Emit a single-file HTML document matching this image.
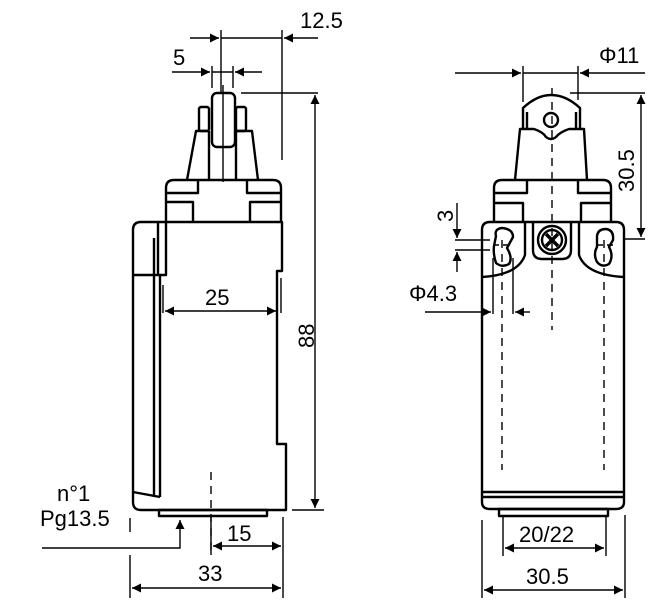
<!DOCTYPE html>
<html><head><meta charset="utf-8"><style>
html,body{margin:0;padding:0;background:#fff}
svg{display:block}
text{font-family:"Liberation Sans",sans-serif;font-size:22px;fill:#000}
</style></head><body>
<svg width="661" height="606" viewBox="0 0 661 606" xmlns="http://www.w3.org/2000/svg">
<defs>
<marker id="a" viewBox="0 0 10 10" refX="10" refY="5" markerWidth="16" markerHeight="9" markerUnits="userSpaceOnUse" orient="auto-start-reverse"><path d="M0,0 L10,5 L0,10 z" fill="#000"/></marker>
</defs>
<g fill="none" stroke="#000" stroke-width="2.4" stroke-linejoin="round">
<rect x="212" y="93" width="23" height="54" rx="5"/>
<rect x="199" y="107" width="10" height="24" rx="2"/>
<rect x="236" y="107" width="10" height="24" rx="2"/>
<path d="M187,180 L196,131 L209,131 M236,131 L252,131 L258,180"/>
<path d="M209,131 V180 M236,131 V180"/>
<path d="M166,222 V188 Q166,180 174,180 H273 Q281,180 281,188 V222"/>
<path d="M166,193 H198 V180 M166,202 H193 V222 M281,193 H247 V180 M281,202 H250 V222"/>
<path d="M133,230 Q133,222 141,222 H282 V271 H277 V444 H286 V510 H141 Q133,510 133,502 Z"/>
<path d="M133,275 H166 V222 M158,222 V275"/>
<path d="M154,238 V497 M160,275 V497 M133,492 L160,497"/>
<rect x="159" y="510" width="108" height="6"/>
</g>
<g fill="none" stroke="#000" stroke-width="1.4">
<path d="M223,85 V182"/>
<path d="M211,472 V550" stroke-dasharray="8,6"/>
<path d="M221,30 V92 M282,30 V160"/>
<path d="M190,38 H219" marker-end="url(#a)"/>
<path d="M318,38 H284" marker-end="url(#a)"/>
<path d="M221,38 H282"/>
<path d="M212,66 V88 M233,66 V88"/>
<path d="M172,72 H210" marker-end="url(#a)"/>
<path d="M262,72 H235" marker-end="url(#a)"/>
<path d="M212,72 H233"/>
<path d="M241,93 H318 M292,510 H324"/>
<path d="M315,95 V508" marker-start="url(#a)" marker-end="url(#a)"/>
<path d="M163,285 V313 M281,278 V313"/>
<path d="M165,311 H276" marker-start="url(#a)" marker-end="url(#a)"/>
<path d="M211,517 V555 M283,517 V598 M130,555 V598 M130,518 V532"/>
<path d="M213,546 H281" marker-start="url(#a)" marker-end="url(#a)"/>
<path d="M132,588 H281" marker-start="url(#a)" marker-end="url(#a)"/>
<path d="M42,548 H180 V520" marker-end="url(#a)"/>
</g>
<text x="300" y="28">12.5</text>
<text x="173" y="65">5</text>
<text x="205" y="305">25</text>
<text x="227" y="541">15</text>
<text x="198" y="581">33</text>
<text x="57" y="501">n°1</text>
<text x="40" y="526">Pg13.5</text>
<text transform="translate(314,348) rotate(-90)">88</text>

<g fill="none" stroke="#000" stroke-width="2.4" stroke-linejoin="round">
<path d="M523,128 V108 Q537,95 551,95 Q566,95 580,108 V128"/>
<path d="M527,112 V128 M576,112 V128"/>
<circle cx="551" cy="120" r="7"/>
<path d="M515,180 L520,129 H534 Q543,132 546,137 Q551,141 556,137 Q560,132 569,129 H584 L587,180"/>
<path d="M494,222 V188 Q494,180 502,180 H603 Q611,180 611,188 V222"/>
<path d="M494,193 H527 V180 M494,203 H523 V222 M611,193 H578 V180 M611,203 H581 V222"/>
<path d="M482,230 Q482,222 490,222 H616 Q624,222 624,230 V502 Q624,509 616,509 H490 Q482,509 482,502 Z"/>
<path d="M482,492 H624 M482,497 H624"/>
<path d="M525,222 V255 Q518,275 482,277"/>
<path d="M579,222 V255 Q586,275 624,277"/>
<path d="M533,222 V250 Q533,259 542,259 H562 Q571,259 571,250 V222"/>
<circle cx="552" cy="240" r="14"/>
<circle cx="552" cy="240" r="10"/>
<path d="M546,234 L558,246 M558,234 L546,246" stroke-width="3.5"/>
<path d="M496,236 Q494,229 502,228 Q513,229 513,237 L507,248 Q513,258 509,264 Q502,268 496,263 Q493,254 494,246 Z"/>
<path d="M597,236 Q598,229 606,229 Q614,230 613,240 L609,247 Q614,256 609,264 Q602,268 597,262 Q593,254 597,247 Z"/>
<rect x="499" y="509" width="109" height="7"/>
</g>
<g fill="none" stroke="#000" stroke-width="1.4">
<path d="M552,88 V330 M502,240 V470 M604,240 V470" stroke-dasharray="8,6"/>
<path d="M493,245 H513 M597,245 H614" stroke-dasharray="6,4"/>
<path d="M523,66 V102 M578,66 V100"/>
<path d="M455,73 H521" marker-end="url(#a)"/>
<path d="M645,73 H580" marker-end="url(#a)"/>
<path d="M523,73 H578"/>
<path d="M570,93 H645 M625,239 H645"/>
<path d="M641,95 V237" marker-start="url(#a)" marker-end="url(#a)"/>
<path d="M455,240 H490 M455,250 H490"/>
<path d="M457,203 V238" marker-end="url(#a)"/>
<path d="M457,272 V252" marker-end="url(#a)"/>
<path d="M493,258 V314 M513,258 V314"/>
<path d="M425,312 H491" marker-end="url(#a)"/>
<path d="M530,312 H515" marker-end="url(#a)"/>
<path d="M503,517 V556 M606,517 V556 M482,520 V598 M625,515 V598"/>
<path d="M505,548 H604" marker-start="url(#a)" marker-end="url(#a)"/>
<path d="M484,590 H623" marker-start="url(#a)" marker-end="url(#a)"/>
</g>
<text x="599" y="63">Φ11</text>
<text transform="translate(634,192) rotate(-90)">30.5</text>
<text transform="translate(453,222) rotate(-90)">3</text>
<text x="409" y="301">Φ4.3</text>
<text x="519" y="542">20/22</text>
<text x="526" y="584">30.5</text>
</svg>
</body></html>
